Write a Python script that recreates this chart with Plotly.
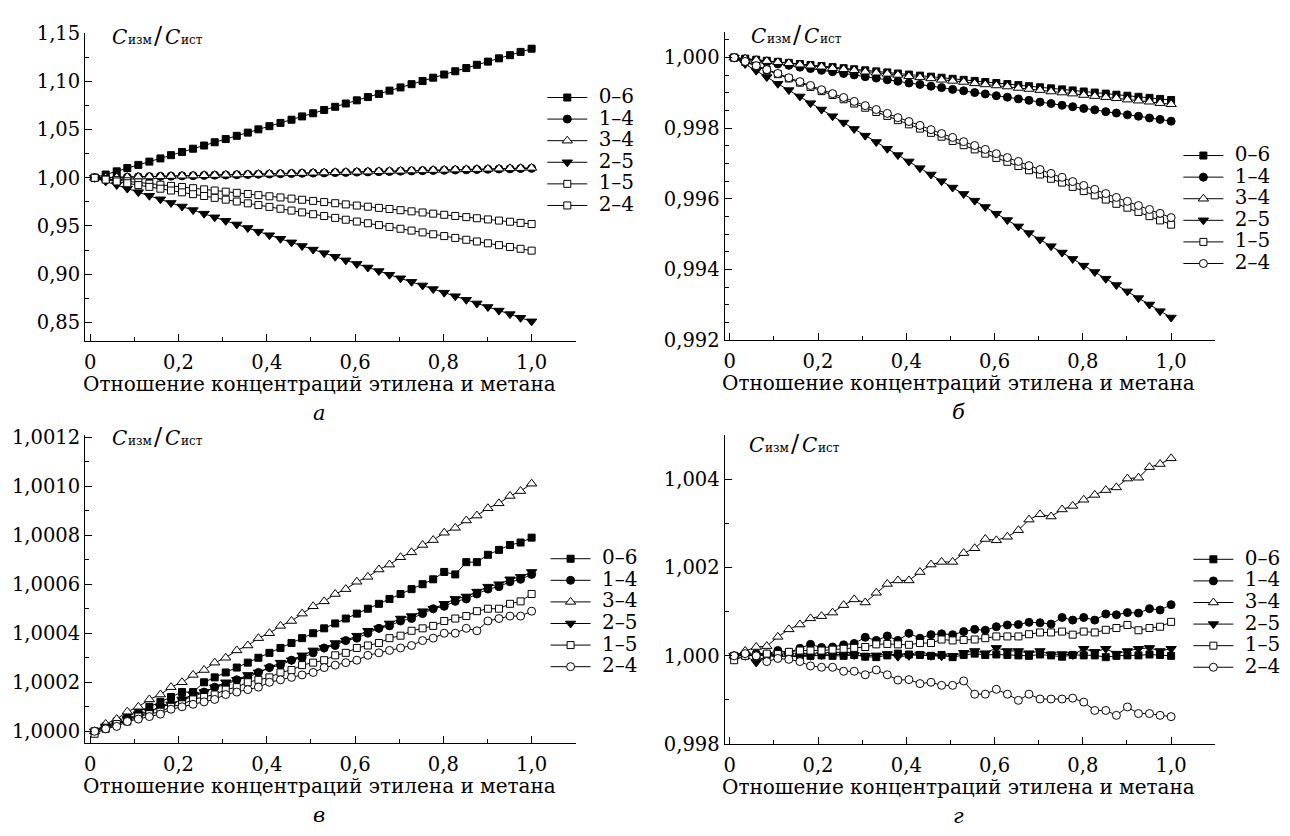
import plotly.graph_objects as go

FONT = "DejaVu Serif"
# The page body has an 8 px default margin, so the figure is drawn 8 px in from
# the top-left corner of the 1290x836 window.
PAGE_MARGIN = 8
FW, FH = 1290 - PAGE_MARGIN, 836 - PAGE_MARGIN

# ---------------- data ----------------
X = [0.010, 0.035, 0.060, 0.084, 0.109, 0.134, 0.159, 0.183, 0.208, 0.233,
     0.258, 0.282, 0.307, 0.332, 0.357, 0.381, 0.406, 0.431, 0.456, 0.480,
     0.505, 0.530, 0.555, 0.579, 0.604, 0.629, 0.654, 0.678, 0.703, 0.728,
     0.753, 0.777, 0.802, 0.827, 0.852, 0.876, 0.901, 0.926, 0.951, 0.975, 1.000]

SERIES_NAMES = ["0–6", "1–4", "3–4", "2–5", "1–5", "2–4"]

# panel а
A_06 = [1.0000, 1.0034, 1.0067, 1.0101, 1.0134, 1.0168, 1.0201, 1.0235, 1.0268, 1.0302,
        1.0335, 1.0369, 1.0402, 1.0436, 1.0469, 1.0503, 1.0536, 1.0570, 1.0603, 1.0637,
        1.0670, 1.0704, 1.0737, 1.0771, 1.0804, 1.0838, 1.0871, 1.0905, 1.0938, 1.0972,
        1.1005, 1.1039, 1.1072, 1.1106, 1.1139, 1.1173, 1.1206, 1.1240, 1.1273, 1.1307, 1.1340]
A_14 = [1.0000, 1.0002, 1.0005, 1.0007, 1.0010, 1.0012, 1.0015, 1.0017, 1.0020, 1.0022,
        1.0025, 1.0027, 1.0029, 1.0032, 1.0034, 1.0037, 1.0039, 1.0042, 1.0044, 1.0047,
        1.0049, 1.0051, 1.0054, 1.0056, 1.0059, 1.0061, 1.0064, 1.0066, 1.0069, 1.0071,
        1.0074, 1.0076, 1.0078, 1.0081, 1.0083, 1.0086, 1.0088, 1.0091, 1.0093, 1.0096, 1.0098]
A_34 = [1.0000, 1.0003, 1.0005, 1.0008, 1.0010, 1.0013, 1.0015, 1.0018, 1.0021, 1.0023,
        1.0026, 1.0028, 1.0031, 1.0033, 1.0036, 1.0039, 1.0041, 1.0044, 1.0046, 1.0049,
        1.0052, 1.0054, 1.0057, 1.0059, 1.0062, 1.0064, 1.0067, 1.0070, 1.0072, 1.0075,
        1.0077, 1.0080, 1.0082, 1.0085, 1.0088, 1.0090, 1.0093, 1.0095, 1.0098, 1.0100, 1.0103]
A_25 = [1.0000, 0.9963, 0.9926, 0.9888, 0.9851, 0.9814, 0.9777, 0.9739, 0.9702, 0.9665,
        0.9628, 0.9590, 0.9553, 0.9516, 0.9479, 0.9441, 0.9404, 0.9367, 0.9330, 0.9292,
        0.9255, 0.9218, 0.9181, 0.9143, 0.9106, 0.9069, 0.9032, 0.8994, 0.8957, 0.8920,
        0.8883, 0.8845, 0.8808, 0.8771, 0.8734, 0.8696, 0.8659, 0.8622, 0.8585, 0.8547, 0.8510]
A_15 = [1.0000, 0.9988, 0.9976, 0.9964, 0.9952, 0.9940, 0.9928, 0.9916, 0.9904, 0.9892,
        0.9880, 0.9868, 0.9856, 0.9844, 0.9832, 0.9820, 0.9808, 0.9796, 0.9784, 0.9772,
        0.9760, 0.9748, 0.9736, 0.9724, 0.9712, 0.9700, 0.9688, 0.9676, 0.9664, 0.9652,
        0.9640, 0.9628, 0.9616, 0.9604, 0.9592, 0.9580, 0.9568, 0.9556, 0.9544, 0.9532, 0.9520]
A_24 = [1.0000, 0.9981, 0.9962, 0.9943, 0.9924, 0.9906, 0.9887, 0.9868, 0.9849, 0.9830,
        0.9811, 0.9792, 0.9773, 0.9754, 0.9735, 0.9717, 0.9698, 0.9679, 0.9660, 0.9641,
        0.9622, 0.9603, 0.9584, 0.9565, 0.9546, 0.9528, 0.9509, 0.9490, 0.9471, 0.9452,
        0.9433, 0.9414, 0.9395, 0.9376, 0.9357, 0.9339, 0.9320, 0.9301, 0.9282, 0.9263, 0.9244]

# panel б
B_06 = [1.00000, 0.99997, 0.99994, 0.99991, 0.99988, 0.99985, 0.99982, 0.99979, 0.99976, 0.99973,
        0.99970, 0.99967, 0.99964, 0.99961, 0.99958, 0.99955, 0.99952, 0.99949, 0.99946, 0.99943,
        0.99940, 0.99937, 0.99934, 0.99931, 0.99928, 0.99925, 0.99922, 0.99919, 0.99916, 0.99913,
        0.99910, 0.99907, 0.99904, 0.99901, 0.99898, 0.99895, 0.99892, 0.99889, 0.99886, 0.99883, 0.99880]
B_14 = [1.00000, 0.99996, 0.99991, 0.99987, 0.99982, 0.99978, 0.99973, 0.99969, 0.99964, 0.99960,
        0.99955, 0.99951, 0.99946, 0.99942, 0.99937, 0.99933, 0.99928, 0.99924, 0.99919, 0.99915,
        0.99910, 0.99906, 0.99901, 0.99897, 0.99892, 0.99888, 0.99883, 0.99879, 0.99874, 0.99870,
        0.99865, 0.99861, 0.99856, 0.99852, 0.99847, 0.99843, 0.99838, 0.99834, 0.99829, 0.99825, 0.99820]
B_34 = [1.00000, 0.99997, 0.99993, 0.99990, 0.99987, 0.99984, 0.99980, 0.99977, 0.99974, 0.99970,
        0.99967, 0.99964, 0.99960, 0.99957, 0.99954, 0.99951, 0.99947, 0.99944, 0.99941, 0.99937,
        0.99934, 0.99931, 0.99927, 0.99924, 0.99921, 0.99918, 0.99914, 0.99911, 0.99908, 0.99904,
        0.99901, 0.99898, 0.99894, 0.99891, 0.99888, 0.99885, 0.99881, 0.99878, 0.99875, 0.99871, 0.99868]
B_25 = [1.00000, 0.99982, 0.99963, 0.99945, 0.99926, 0.99908, 0.99890, 0.99871, 0.99853, 0.99834,
        0.99816, 0.99798, 0.99779, 0.99761, 0.99742, 0.99724, 0.99706, 0.99687, 0.99669, 0.99650,
        0.99632, 0.99614, 0.99595, 0.99577, 0.99558, 0.99540, 0.99522, 0.99503, 0.99485, 0.99466,
        0.99448, 0.99430, 0.99411, 0.99393, 0.99374, 0.99356, 0.99338, 0.99319, 0.99301, 0.99282, 0.99264]
B_15 = [1.00000, 0.99988, 0.99976, 0.99965, 0.99953, 0.99941, 0.99929, 0.99917, 0.99905, 0.99894,
        0.99882, 0.99870, 0.99858, 0.99846, 0.99835, 0.99823, 0.99811, 0.99799, 0.99787, 0.99776,
        0.99764, 0.99752, 0.99740, 0.99728, 0.99716, 0.99705, 0.99693, 0.99681, 0.99669, 0.99657,
        0.99646, 0.99634, 0.99622, 0.99610, 0.99598, 0.99586, 0.99575, 0.99563, 0.99551, 0.99539, 0.99527]
B_24 = [1.00000, 0.99989, 0.99977, 0.99966, 0.99955, 0.99943, 0.99932, 0.99921, 0.99909, 0.99898,
        0.99887, 0.99876, 0.99864, 0.99853, 0.99842, 0.99830, 0.99819, 0.99808, 0.99796, 0.99785,
        0.99774, 0.99762, 0.99751, 0.99740, 0.99728, 0.99717, 0.99706, 0.99694, 0.99683, 0.99672,
        0.99661, 0.99649, 0.99638, 0.99627, 0.99615, 0.99604, 0.99593, 0.99581, 0.99570, 0.99559, 0.99547]

# panel в
C_06 = [1.00000, 1.00002, 1.00004, 1.00006, 1.00008, 1.00010, 1.00012, 1.00014, 1.00016, 1.00016,
        1.00020, 1.00022, 1.00024, 1.00026, 1.00028, 1.00030, 1.00032, 1.00034, 1.00036, 1.00038,
        1.00040, 1.00042, 1.00044, 1.00046, 1.00048, 1.00050, 1.00052, 1.00054, 1.00056, 1.00058,
        1.00060, 1.00062, 1.00065, 1.00064, 1.00069, 1.00069, 1.00072, 1.00074, 1.00076, 1.00077, 1.00079]
C_14 = [1.00000, 1.00002, 1.00003, 1.00005, 1.00006, 1.00008, 1.00010, 1.00011, 1.00013, 1.00014,
        1.00016, 1.00018, 1.00019, 1.00021, 1.00022, 1.00024, 1.00026, 1.00027, 1.00029, 1.00030,
        1.00032, 1.00034, 1.00035, 1.00037, 1.00038, 1.00040, 1.00042, 1.00043, 1.00045, 1.00046,
        1.00048, 1.00050, 1.00051, 1.00053, 1.00054, 1.00056, 1.00058, 1.00059, 1.00061, 1.00062, 1.00064]
C_34 = [1.00000, 1.00003, 1.00005, 1.00008, 1.00010, 1.00013, 1.00015, 1.00018, 1.00020, 1.00023,
        1.00025, 1.00028, 1.00030, 1.00033, 1.00035, 1.00038, 1.00040, 1.00043, 1.00045, 1.00048,
        1.00051, 1.00053, 1.00056, 1.00058, 1.00061, 1.00063, 1.00066, 1.00068, 1.00071, 1.00073,
        1.00076, 1.00078, 1.00081, 1.00083, 1.00086, 1.00088, 1.00091, 1.00093, 1.00096, 1.00098, 1.00101]
C_25 = [1.00000, 1.00002, 1.00003, 1.00005, 1.00007, 1.00008, 1.00010, 1.00011, 1.00013, 1.00015,
        1.00016, 1.00018, 1.00020, 1.00021, 1.00023, 1.00024, 1.00026, 1.00028, 1.00029, 1.00031,
        1.00033, 1.00034, 1.00036, 1.00037, 1.00039, 1.00041, 1.00042, 1.00044, 1.00046, 1.00047,
        1.00049, 1.00050, 1.00052, 1.00054, 1.00055, 1.00057, 1.00059, 1.00060, 1.00062, 1.00063, 1.00065]
C_15 = [0.99999, 1.00001, 1.00003, 1.00004, 1.00006, 1.00007, 1.00008, 1.00010, 1.00011, 1.00013,
        1.00014, 1.00015, 1.00017, 1.00018, 1.00020, 1.00021, 1.00022, 1.00024, 1.00025, 1.00027,
        1.00028, 1.00029, 1.00031, 1.00032, 1.00034, 1.00035, 1.00036, 1.00038, 1.00039, 1.00041,
        1.00042, 1.00043, 1.00045, 1.00046, 1.00047, 1.00049, 1.00050, 1.00050, 1.00052, 1.00053, 1.00056]
C_24 = [1.00000, 1.00001, 1.00002, 1.00004, 1.00005, 1.00006, 1.00007, 1.00009, 1.00010, 1.00011,
        1.00012, 1.00013, 1.00015, 1.00016, 1.00017, 1.00018, 1.00020, 1.00021, 1.00022, 1.00023,
        1.00024, 1.00026, 1.00027, 1.00028, 1.00029, 1.00031, 1.00032, 1.00033, 1.00034, 1.00035,
        1.00037, 1.00038, 1.00040, 1.00040, 1.00042, 1.00041, 1.00045, 1.00046, 1.00047, 1.00047, 1.00049]

# panel г
D_06 = [1.00000, 1.00001, 1.00000, 1.00002, 1.00000, 0.99999, 0.99998, 1.00000, 1.00001, 1.00000,
        1.00000, 1.00002, 0.99998, 0.99997, 1.00001, 1.00005, 1.00003, 1.00002, 1.00000, 1.00002,
        0.99997, 1.00002, 1.00005, 1.00002, 1.00003, 1.00002, 1.00001, 1.00000, 1.00003, 1.00001,
        0.99998, 1.00002, 1.00001, 1.00001, 0.99997, 1.00000, 1.00001, 1.00001, 1.00003, 1.00002, 1.00000]
D_14 = [1.00000, 1.00003, 1.00005, 1.00004, 1.00012, 1.00008, 1.00017, 1.00026, 1.00019, 1.00020,
        1.00025, 1.00028, 1.00042, 1.00035, 1.00045, 1.00035, 1.00051, 1.00040, 1.00048, 1.00050,
        1.00048, 1.00055, 1.00060, 1.00058, 1.00066, 1.00070, 1.00071, 1.00076, 1.00075, 1.00072,
        1.00087, 1.00081, 1.00087, 1.00081, 1.00095, 1.00093, 1.00098, 1.00097, 1.00107, 1.00104, 1.00116]
D_34 = [1.00000, 1.00011, 1.00020, 1.00022, 1.00043, 1.00060, 1.00071, 1.00085, 1.00090, 1.00098,
        1.00115, 1.00128, 1.00121, 1.00143, 1.00163, 1.00171, 1.00171, 1.00190, 1.00207, 1.00213,
        1.00213, 1.00233, 1.00244, 1.00265, 1.00262, 1.00270, 1.00285, 1.00309, 1.00321, 1.00316,
        1.00332, 1.00340, 1.00354, 1.00365, 1.00376, 1.00382, 1.00402, 1.00404, 1.00428, 1.00435, 1.00448]
D_25 = [1.00000, 1.00000, 0.99985, 1.00000, 0.99998, 1.00000, 1.00001, 1.00000, 1.00002, 1.00003,
        1.00003, 1.00002, 1.00000, 1.00001, 1.00004, 0.99998, 1.00000, 1.00003, 1.00000, 0.99999,
        1.00000, 1.00007, 1.00011, 1.00006, 1.00018, 1.00011, 1.00011, 1.00006, 1.00011, 1.00003,
        1.00004, 1.00002, 1.00016, 1.00009, 1.00016, 1.00005, 1.00011, 1.00016, 1.00018, 1.00011, 1.00016]
D_15 = [0.99990, 1.00000, 1.00001, 1.00005, 1.00004, 1.00009, 1.00012, 1.00012, 1.00012, 1.00014,
        1.00016, 1.00018, 1.00020, 1.00026, 1.00027, 1.00026, 1.00025, 1.00029, 1.00029, 1.00037,
        1.00035, 1.00036, 1.00037, 1.00040, 1.00044, 1.00044, 1.00044, 1.00049, 1.00053, 1.00053,
        1.00055, 1.00048, 1.00055, 1.00053, 1.00059, 1.00063, 1.00070, 1.00058, 1.00063, 1.00066, 1.00077]
D_24 = [1.00000, 1.00005, 1.00000, 0.99987, 0.99994, 0.99992, 0.99987, 0.99977, 0.99974, 0.99974,
        0.99965, 0.99965, 0.99957, 0.99968, 0.99957, 0.99945, 0.99946, 0.99937, 0.99940, 0.99933,
        0.99933, 0.99943, 0.99913, 0.99913, 0.99924, 0.99913, 0.99899, 0.99913, 0.99902, 0.99902,
        0.99902, 0.99904, 0.99895, 0.99876, 0.99876, 0.99865, 0.99884, 0.99869, 0.99869, 0.99865, 0.99862]

# tick values / labels
X_TICKS = [0, 0.2, 0.4, 0.6, 0.8, 1.0]
X_LABELS = ["0", "0,2", "0,4", "0,6", "0,8", "1,0"]
YA_TICKS = [0.85, 0.90, 0.95, 1.00, 1.05, 1.10, 1.15]
YA_LABELS = ["0,85", "0,90", "0,95", "1,00", "1,05", "1,10", "1,15"]
YB_TICKS = [0.992, 0.994, 0.996, 0.998, 1.000]
YB_LABELS = ["0,992", "0,994", "0,996", "0,998", "1,000"]
YC_TICKS = [1.0000, 1.0002, 1.0004, 1.0006, 1.0008, 1.0010, 1.0012]
YC_LABELS = ["1,0000", "1,0002", "1,0004", "1,0006", "1,0008", "1,0010", "1,0012"]
YD_TICKS = [0.998, 1.000, 1.002, 1.004]
YD_LABELS = ["0,998", "1,000", "1,002", "1,004"]

X_TITLE = "Отношение концентраций этилена и метана"
# quantity label C_изм / C_ист, written as pieces: (text, size, italic, dx from start)
Y_TITLE_PARTS = [("C", 20, True, 0), ("изм", 12, False, 16), ("/", 24, False, 42),
                 ("C", 20, True, 53), ("ист", 12, False, 69)]
PANEL_LETTERS = ["а", "б", "в", "г"]

# ---------------- styles ----------------
BLACK = "black"
WHITE = "white"
STY_FILLED_SQ = dict(symbol="square", size=7, color=BLACK, line=dict(color=BLACK, width=1))
STY_FILLED_CI = dict(symbol="circle", size=8, color=BLACK, line=dict(color=BLACK, width=1))
STY_OPEN_TRI = dict(symbol="triangle-up", size=9, color=WHITE, line=dict(color=BLACK, width=1))
STY_FILLED_TRD = dict(symbol="triangle-down", size=9, color=BLACK, line=dict(color=BLACK, width=1))
STY_OPEN_SQ = dict(symbol="square", size=7, color=WHITE, line=dict(color=BLACK, width=1))
STY_OPEN_CI = dict(symbol="circle", size=8, color=WHITE, line=dict(color=BLACK, width=1))

panels = [
    dict(series=[A_06, A_14, A_34, A_25, A_15, A_24],
         markers=[STY_FILLED_SQ, STY_FILLED_CI, STY_OPEN_TRI, STY_FILLED_TRD, STY_OPEN_SQ, STY_OPEN_SQ]),
    dict(series=[B_06, B_14, B_34, B_25, B_15, B_24],
         markers=[STY_FILLED_SQ, STY_FILLED_CI, STY_OPEN_TRI, STY_FILLED_TRD, STY_OPEN_SQ, STY_OPEN_CI]),
    dict(series=[C_06, C_14, C_34, C_25, C_15, C_24],
         markers=[STY_FILLED_SQ, STY_FILLED_CI, STY_OPEN_TRI, STY_FILLED_TRD, STY_OPEN_SQ, STY_OPEN_CI]),
    dict(series=[D_06, D_14, D_34, D_25, D_15, D_24],
         markers=[STY_FILLED_SQ, STY_FILLED_CI, STY_OPEN_TRI, STY_FILLED_TRD, STY_OPEN_SQ, STY_OPEN_CI]),
]

fig = go.Figure()
legend_ids = ["legend", "legend2", "legend3", "legend4"]
for p, panel in enumerate(panels):
    xa = "x" if p == 0 else f"x{p+1}"
    ya = "y" if p == 0 else f"y{p+1}"
    for name, vals, mk in zip(SERIES_NAMES, panel["series"], panel["markers"]):
        fig.add_trace(go.Scatter(
            x=X, y=vals, mode="lines+markers", xaxis=xa, yaxis=ya,
            name=f'<span style="font-size:20px">\u00a0{name}</span>',
            line=dict(color=BLACK, width=1), marker=mk,
            legend=legend_ids[p], showlegend=True, cliponaxis=False))

# ---------------- layout geometry (window pixels) ----------------
def sx(v):
    return (v - PAGE_MARGIN) / FW

def sy(v):
    return 1 - (v - PAGE_MARGIN) / FH

X_LEFT = [84.3, 724.3, 84.3, 724.3]
X_RIGHT = [575.2, 1215.2, 575.2, 1215.2]
Y_TOP = [22.7, 21.7, 436.3, 436.3]
Y_BOT = [339.3, 338.3, 753.0, 753.7]
Y_RANGES = [[0.8305, 1.15], [0.992, 1.000716], [0.999951, 1.001207], [0.998, 1.005]]
Y_TICKS = [YA_TICKS, YB_TICKS, YC_TICKS, YD_TICKS]
Y_LABELS = [YA_LABELS, YB_LABELS, YC_LABELS, YD_LABELS]
Y_MINOR = [(0.025, 0.85), (0.0005, 0.992), (0.0001, 1.0), (0.001, 0.998)]
QLABEL_X = [110.0, 750.0, 110.5, 747.5]      # left edge of "C"
QLABEL_BASE = [35.0, 34.0, 447.5, 454.5]     # baseline of the quantity label

tickfont = dict(family=FONT, size=19.5, color=BLACK)
layout = dict(
    width=FW, height=FH, margin=dict(l=0, r=0, t=0, b=0),
    paper_bgcolor=WHITE, plot_bgcolor=WHITE,
    font=dict(family=FONT, size=19, color=BLACK),
    annotations=[],
)
for p in range(4):
    xk = "xaxis" if p == 0 else f"xaxis{p+1}"
    yk = "yaxis" if p == 0 else f"yaxis{p+1}"
    ya = "y" if p == 0 else f"y{p+1}"
    xa = "x" if p == 0 else f"x{p+1}"
    layout[xk] = dict(
        domain=[sx(X_LEFT[p]), sx(X_RIGHT[p])], anchor=ya,
        range=[-0.0113, 1.1], tickmode="array", tickvals=X_TICKS, ticktext=X_LABELS,
        ticks="inside", ticklen=7, tickwidth=1, tickcolor=BLACK, ticklabelstandoff=3,
        showline=True, linecolor=BLACK, linewidth=1.3, showgrid=False, zeroline=False,
        tickfont=tickfont,
        minor=dict(ticks="inside", ticklen=4, tickwidth=1, tickcolor=BLACK, dtick=0.1, tick0=0, showgrid=False),
    )
    md, m0 = Y_MINOR[p]
    layout[yk] = dict(
        domain=[sy(Y_BOT[p]), sy(Y_TOP[p])], anchor=xa,
        range=Y_RANGES[p], tickmode="array", tickvals=Y_TICKS[p], ticktext=Y_LABELS[p],
        ticks="inside", ticklen=7, tickwidth=1, tickcolor=BLACK,
        showline=True, linecolor=BLACK, linewidth=1.3, showgrid=False, zeroline=False,
        tickfont=tickfont,
        minor=dict(ticks="inside", ticklen=4, tickwidth=1, tickcolor=BLACK, dtick=md, tick0=m0, showgrid=False),
    )
    # quantity label pieces, baseline-aligned (box bottom = baseline + descent + pad)
    for txt, size, ital, dx in Y_TITLE_PARTS:
        layout["annotations"].append(dict(
            text=txt, xref="paper", yref="paper",
            x=sx(QLABEL_X[p] + dx - 1), y=sy(QLABEL_BASE[p] + 0.236 * size + 1),
            xanchor="left", yanchor="bottom", showarrow=False,
            font=dict(family=FONT, size=size, color=BLACK, style="italic" if ital else "normal")))
    # x title and panel letter
    cx = X_LEFT[p] + 234
    layout["annotations"].append(dict(
        text=X_TITLE, xref="paper", yref="paper",
        x=sx(cx), y=sy(Y_BOT[p] + 44), xanchor="center", yanchor="middle",
        showarrow=False, font=dict(family=FONT, size=20, color=BLACK)))
    layout["annotations"].append(dict(
        text=PANEL_LETTERS[p], xref="paper", yref="paper",
        x=sx(cx), y=sy(Y_BOT[p] + 74), xanchor="center", yanchor="middle",
        showarrow=False, font=dict(family=FONT, size=21, color=BLACK, style="italic")))

LEG_LINE_X = [546.7, 1183.3, 550.0, 1193.3]   # left end of the legend line
LEG_FIRST_Y = [88.3, 148.0, 562.7, 563.3]     # centre of the first legend row
for p in range(4):
    layout[legend_ids[p]] = dict(
        x=sx(LEG_LINE_X[p] - 5), y=sy(LEG_FIRST_Y[p] - 15.8), xanchor="left", yanchor="top",
        bgcolor="rgba(0,0,0,0)", borderwidth=0,
        font=dict(family=FONT, size=14.3, color=BLACK),
        itemwidth=40, tracegroupgap=0,
    )

fig.update_layout(**layout)
fig.write_html("out.html")
